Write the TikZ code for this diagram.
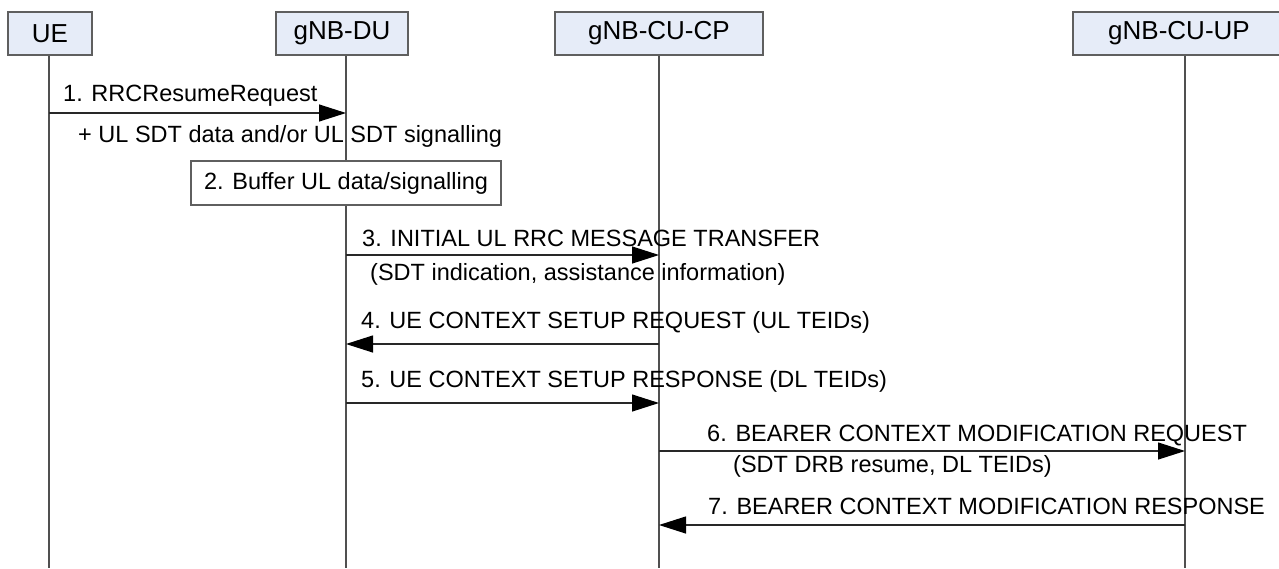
\documentclass[tikz,border=0pt]{standalone}
\usepackage{fontspec}
\setmainfont{Liberation Sans}
\usetikzlibrary{arrows.meta}
\definecolor{hdrfill}{RGB}{230,236,248}
\definecolor{hdrline}{RGB}{95,95,95}
\definecolor{lifeline}{RGB}{80,80,80}
\definecolor{msgline}{RGB}{40,40,40}
\tikzset{
  hdr/.style={draw=hdrline, line width=1.3pt, fill=hdrfill, minimum height=43pt, inner sep=0pt,
    font=\fontsize{26}{30}\selectfont},
  lifeln/.style={draw=lifeline, line width=1.1pt},
  msg/.style={draw=msgline, line width=1.2pt, -{Triangle[length=27pt,width=17pt,fill=black,color=black]}},
  lbl/.style={anchor=west, inner sep=0pt, font=\fontsize{23.5}{28}\selectfont},
  procbox/.style={draw=hdrline, line width=1.1pt, fill=white, minimum width=310pt, minimum height=44pt,
    inner sep=0pt, font=\fontsize{23.5}{28}\selectfont}
}
\begin{document}
\begin{tikzpicture}[x=1pt,y=-1pt]
\clip (0,0) rectangle (1279,568);
\fill[white] (0,0) rectangle (1279,568);
% lifeline coordinates
\coordinate (ueT) at (49,55);   \coordinate (ueB) at (49,568);
\coordinate (duT) at (346,55);  \coordinate (duB) at (346,568);
\coordinate (cpT) at (659,55);  \coordinate (cpB) at (659,568);
\coordinate (upT) at (1185,55); \coordinate (upB) at (1185,568);
\draw[lifeln] (ueT) -- (ueB);
\draw[lifeln] (duT) -- (duB);
\draw[lifeln] (cpT) -- (cpB);
\draw[lifeln] (upT) -- (upB);
% headers
\node[hdr, minimum width=84pt] (ue) at (50,33.5) {UE};
\node[hdr, minimum width=132pt] (du) at (342,33.5) {gNB-DU};
\node[hdr, minimum width=208pt] (cp) at (659,33.5) {gNB-CU-CP};
\node[hdr, minimum width=212pt] (up) at (1179,33.5) {gNB-CU-UP};
% step 1
\coordinate (ue1) at (49,113); \coordinate (du1) at (346,113);
\draw[msg] (ue1) -- (du1);
\node[lbl] (l1) at (63,96) {1. RRCResumeRequest};
\node[lbl] (l1b) at (78,136) {+ UL SDT data and/or UL SDT signalling};
% step 2
\node[procbox] (buf) at (346,183) {2. Buffer UL data/signalling};
% step 3
\coordinate (du3) at (346,255); \coordinate (cp3) at (659,255);
\draw[msg] (du3) -- (cp3);
\node[lbl] (l3) at (362,238) {3. INITIAL UL RRC MESSAGE TRANSFER};
\node[lbl] (l3b) at (370,274) {(SDT indication, assistance information)};
% step 4
\coordinate (cp4) at (659,344); \coordinate (du4) at (346,344);
\draw[msg] (cp4) -- (du4);
\node[lbl] (l4) at (361,322) {4. UE CONTEXT SETUP REQUEST (UL TEIDs)};
% step 5
\coordinate (du5) at (346,403); \coordinate (cp5) at (659,403);
\draw[msg] (du5) -- (cp5);
\node[lbl] (l5) at (361,381) {5. UE CONTEXT SETUP RESPONSE (DL TEIDs)};
% step 6
\coordinate (cp6) at (659,451); \coordinate (up6) at (1185,451);
\draw[msg] (cp6) -- (up6);
\node[lbl] (l6) at (707,436) {6. BEARER CONTEXT MODIFICATION REQUEST};
\node[lbl] (l6b) at (733,466) {(SDT DRB resume, DL TEIDs)};
% step 7
\coordinate (up7) at (1185,525); \coordinate (cp7) at (659,525);
\draw[msg] (up7) -- (cp7);
\node[lbl] (l7) at (708,506) {7. BEARER CONTEXT MODIFICATION RESPONSE};
\end{tikzpicture}
\end{document}
